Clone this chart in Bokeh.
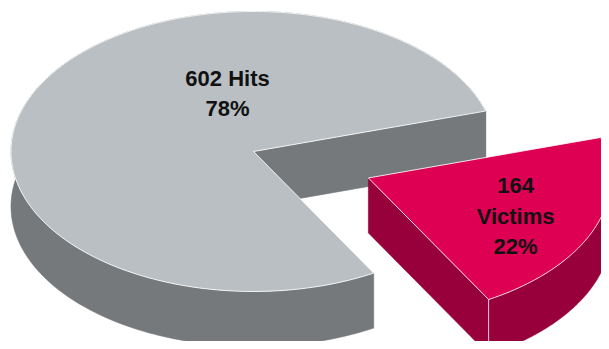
import numpy as np
from bokeh.plotting import figure
from bokeh.models import Range1d, ColumnDataSource
from bokeh.core.properties import value
from bokeh.embed import file_html
from bokeh.resources import INLINE

# ---- data ----
names = ["Hits", "Victims"]
counts = [602, 164]
pct_labels = ["78%", "22%"]
stacked_label = [False, True]          # Victims label is written on three lines

# ---- style ----
top_colors = ["#b9bfc2", "#de0052"]
side_colors = ["#75797c", "#97003a"]
explode = [0.0, 0.51]
start_deg = 16.8                       # first slice starts here, slices run counter-clockwise
CX, CY = 253.0, 151.0                  # pie centre (pixels)
RX, RY = 242.5, 140.0                  # ellipse radii of top face
H = 55.0                               # thickness
label_off = [(-0.107, 0.524), (0.607, -0.055)]   # label anchor, in radius units from slice apex
line_gap = 30.6
FONT = "Liberation Sans"

W, Hh = 601, 341
p = figure(width=W, height=Hh, output_backend="svg", toolbar_location=None,
           x_range=Range1d(0, W), y_range=Range1d(Hh, 0),
           x_axis_type=None, y_axis_type=None, min_border=0,
           background_fill_color="white", border_fill_color="white")
p.outline_line_color = None
p.grid.visible = False


def sx(X):
    return CX + RX * np.asarray(X)


def sy(Y, z=0.0):
    return CY - RY * np.asarray(Y) + z


total = float(sum(counts))
angles = []
a = np.radians(start_deg)
for c in counts:
    span = 2 * np.pi * c / total
    angles.append((a, a + span))
    a += span

for i, (a0, a1) in enumerate(angles):
    mid = 0.5 * (a0 + a1)
    ox, oy = explode[i] * np.cos(mid), explode[i] * np.sin(mid)
    phi = np.linspace(a0, a1, 200)
    X = ox + np.cos(phi)
    Y = oy + np.sin(phi)

    # outer side wall
    side_x = list(sx(X)) + list(sx(X[::-1]))
    side_y = list(sy(Y)) + list(sy(Y[::-1], H))
    xs, ys = [side_x], [side_y]

    # visible cut faces
    faces = []
    if np.cos(a0) > 0:
        faces.append(a0)
    if np.cos(a1) < 0:
        faces.append(a1)
    for fa in faces:
        rx_, ry_ = ox + np.cos(fa), oy + np.sin(fa)
        xs.append(list(sx([ox, rx_, rx_, ox])))
        ys.append([float(sy(oy)), float(sy(ry_)), float(sy(ry_, H)), float(sy(oy, H))])

    p.patches(xs=xs, ys=ys, fill_color=side_colors[i], line_color=side_colors[i],
              line_width=0.6)

    # top face
    tx = [float(sx(ox))] + list(sx(X))
    ty = [float(sy(oy))] + list(sy(Y))
    p.patch(x=tx, y=ty, fill_color=top_colors[i], line_color="white",
            line_width=1.0, line_alpha=0.85)

    # highlighted vertical edge where a visible cut face meets the wall
    for fa in faces:
        rx_, ry_ = ox + np.cos(fa), oy + np.sin(fa)
        if np.sin(fa) < 0:
            p.line(x=[float(sx(rx_))] * 2, y=[float(sy(ry_)), float(sy(ry_, H))],
                   line_color="white", line_width=1.0, line_alpha=0.8)

    # labels
    if stacked_label[i]:
        lines = [str(counts[i]), names[i], pct_labels[i]]
    else:
        lines = [f"{counts[i]} {names[i]}", pct_labels[i]]
    lx = float(sx(ox + label_off[i][0]))
    ly0 = float(sy(oy + label_off[i][1]))
    src = ColumnDataSource(dict(x=[lx] * len(lines),
                                y=[ly0 + k * line_gap for k in range(len(lines))],
                                t=lines))
    p.text(x="x", y="y", text="t", source=src, text_font=value(FONT),
           text_font_style="bold", text_font_size="22px", text_align="center",
           text_baseline="alphabetic", text_color="#111111")

open("out.html", "w").write(file_html(p, INLINE))
